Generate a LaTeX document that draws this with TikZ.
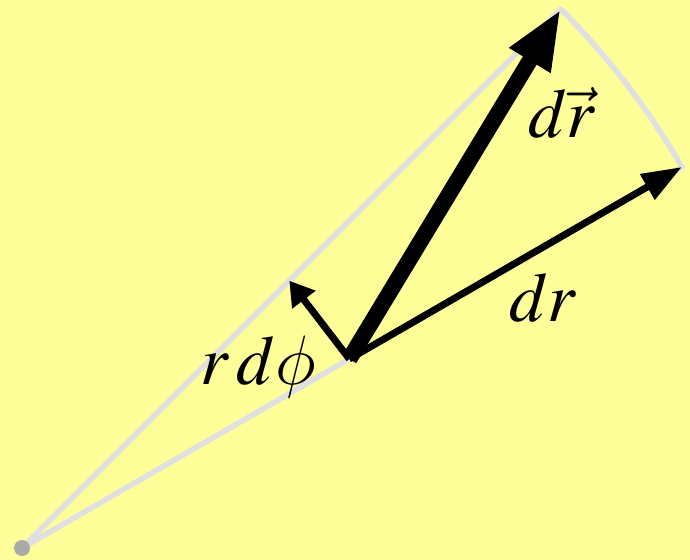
\RequirePackage{fix-cm}
\documentclass[tikz,border=0pt]{standalone}
\usepackage{mathptmx}
\usetikzlibrary{arrows.meta,calc}
\DeclareSymbolFont{cmletters}{OML}{cmm}{m}{it}
\DeclareMathSymbol{\slphi}{\mathord}{cmletters}{"1E}
\definecolor{paper}{RGB}{255,255,153}
\definecolor{guide}{RGB}{224,224,224}
\definecolor{pole}{RGB}{170,170,170}

\begin{document}
\begin{tikzpicture}[
    x=0.5pt, y=0.5pt,
    guideline/.style={draw=guide, line width=2.8pt, line cap=round},
    vec/.style 2 args={line width=3.5pt, -{Triangle[length=#1,width=#2]}},
    bigvec/.style={line width=8pt, -{Triangle[length=30pt,width=22pt]}},
    lbl/.style={font=\fontsize{35}{42}\selectfont, anchor=base, inner sep=0pt}
]
    %% Фон
    \fill[paper] (0,0) rectangle (690,560);
    \useasboundingbox (0,0) rectangle (690,560);

    %% Точки
    \coordinate (O) at (22,12);
    \coordinate (P) at ($(O)+(30:378)$);
    \coordinate (Q) at ($(O)+(30:762)$);
    \coordinate (S) at ($(O)+(45:378)$);
    \coordinate (T) at ($(O)+(45:762)$);

    %% Лучи и дуга
    \draw[guideline] (O) -- (Q);
    \draw[guideline] (O) -- (T);
    \draw[guideline] (T) arc[start angle=45, end angle=30, radius=762];
    \fill[pole] (O) circle (8);

    %% Векторы
    \draw[vec={12pt}{14pt}] (P) -- (S);
    \draw[vec={20pt}{14pt}] (P) -- (Q);
    \draw[bigvec] (P) -- (T);

    %% Подписи
    \node[lbl] (drvec) at (562,422) {$d\vec{r}$};
    \node[lbl] (dr) at (543,238) {$dr$};
    \node[lbl] (rdphi) at (258,175) {$r\,d\slphi$};
\end{tikzpicture}
\end{document}
